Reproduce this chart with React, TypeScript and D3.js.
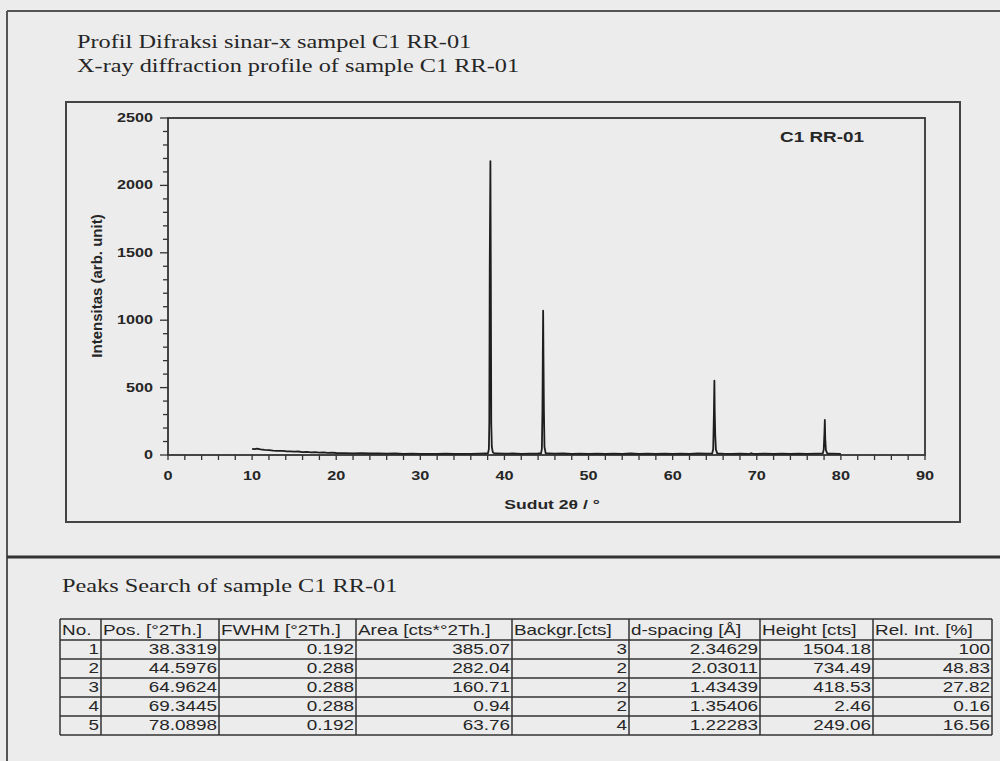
import React from "react";
import * as d3 from "d3";

// diffraction profile, [2theta, counts]
const profile: [number, number][] = [
  [10.0, 46], [10.3, 44], [10.6, 47], [11.0, 41], [11.5, 38], [12.0, 36], [12.5, 33], [13.0, 31],
  [13.5, 30], [14.0, 28], [14.5, 27], [15.0, 25], [15.5, 26], [16.0, 22], [16.5, 23], [17.0, 20],
  [17.5, 21], [18.0, 18], [18.5, 19], [19.0, 16], [19.5, 17], [20.0, 15], [21.0, 14], [22.0, 12],
  [23.0, 13], [24.0, 11], [25.0, 12], [26.0, 10], [27.0, 11], [28.0, 9], [29.0, 10], [30.0, 8],
  [31.0, 9], [32.0, 8], [33.0, 10], [34.0, 8], [35.0, 9], [36.0, 8], [37.0, 10], [37.9, 11],
  [38.05, 14], [38.15, 45], [38.2, 240], [38.25, 1370], [38.33, 2180], [38.38, 1350], [38.43, 240],
  [38.5, 60], [38.62, 20], [38.8, 12], [39.0, 12], [40.0, 10], [41.0, 11], [42.0, 9], [43.0, 10],
  [44.0, 11], [44.35, 12], [44.45, 45], [44.52, 340], [44.56, 730], [44.6, 1070], [44.64, 720],
  [44.69, 340], [44.76, 60], [44.9, 13], [45.2, 12], [46.0, 10], [47.0, 11], [48.0, 9], [49.0, 10],
  [50.0, 9], [51.0, 10], [52.0, 8], [53.0, 10], [54.0, 9], [55.0, 11], [56.0, 9], [57.0, 10],
  [58.0, 8], [59.0, 10], [60.0, 9], [61.0, 10], [62.0, 9], [63.0, 11], [64.0, 10], [64.7, 12],
  [64.82, 45], [64.9, 300], [64.96, 551], [65.0, 320], [65.06, 150], [65.14, 40], [65.3, 12],
  [66.0, 10], [67.0, 9], [68.0, 10], [69.0, 9], [69.2, 11], [69.34, 13], [69.5, 10], [70.0, 9],
  [71.0, 10], [72.0, 9], [73.0, 10], [74.0, 8], [75.0, 10], [76.0, 9], [77.0, 10], [77.85, 12],
  [77.96, 40], [78.05, 170], [78.09, 260], [78.14, 120], [78.22, 35], [78.4, 11], [79.0, 10], [80.0, 9],
];

const xTicks = [0, 10, 20, 30, 40, 50, 60, 70, 80, 90];
const yTicks = [0, 500, 1000, 1500, 2000, 2500];

// peaks search table
const tableHeaders = ["No.", "Pos. [°2Th.]", "FWHM [°2Th.]", "Area [cts*°2Th.]", "Backgr.[cts]", "d-spacing [Å]", "Height [cts]", "Rel. Int. [%]"];
const peakNo = [1, 2, 3, 4, 5];
const peakPos = [38.3319, 44.5976, 64.9624, 69.3445, 78.0898];
const peakFwhm = [0.192, 0.288, 0.288, 0.288, 0.192];
const peakArea = [385.07, 282.04, 160.71, 0.94, 63.76];
const peakBackgr = [3, 2, 2, 2, 4];
const peakDSpacing = [2.34629, 2.03011, 1.43439, 1.35406, 1.22283];
const peakHeight = [1504.18, 734.49, 418.53, 2.46, 249.06];
const peakRelInt = [100, 48.83, 27.82, 0.16, 16.56];

const SX = 1.35; // the scan is stretched sideways
const SANS = "'Liberation Sans', Arial, sans-serif";
const SERIF = "'Liberation Serif', 'Times New Roman', serif";
const INK = "#262626";

const T = ({ x, y, anchor = "start", size, weight = "normal", family = SANS, sx = SX, children }: any) => (
  <text
    transform={`translate(${x},${y}) scale(${sx},1)`}
    textAnchor={anchor}
    fontSize={size}
    fontWeight={weight}
    fontFamily={family}
    fill={INK}
  >
    {children}
  </text>
);

const App = () => {
  const x = d3.scaleLinear().domain([0, 90]).range([168, 925]);
  const y = d3.scaleLinear().domain([0, 2500]).range([455, 118]);
  const line = d3.line<[number, number]>().x(d => x(d[0])).y(d => y(d[1]));

  const xMinor = d3.range(0, 91, 2);
  const yMinor = d3.range(0, 2501, 100);

  const cols = [60, 101, 219, 356, 512, 629, 760, 873, 992];
  const tTop = 619;
  const hBottom = 640;
  const rowH = 19;
  const rows = peakNo.map((n, i) => [n, peakPos[i], peakFwhm[i], peakArea[i], peakBackgr[i], peakDSpacing[i], peakHeight[i], peakRelInt[i]]);

  return (
    <div style={{ position: "absolute", left: 0, top: 0 }}>
      <svg width={1000} height={761} style={{ display: "block" }}>
        <rect x={0} y={0} width={1000} height={761} fill="#ececec" />

        {/* page frame */}
        <line x1={7} x2={1000} y1={11} y2={11} stroke="#555" strokeWidth={2} />
        <line x1={7} x2={7} y1={11} y2={761} stroke="#555" strokeWidth={2} />
        <line x1={7} x2={1000} y1={557} y2={557} stroke="#333" strokeWidth={3} />

        <T x={77} y={48} size={18} family={SERIF}>Profil Difraksi sinar-x sampel C1 RR-01</T>
        <T x={77} y={72} size={18} family={SERIF}>X-ray diffraction profile of  sample C1 RR-01</T>

        {/* chart area */}
        <rect x={66} y={102} width={894} height={420} fill="none" stroke="#444" strokeWidth={2} />
        <rect x={x(0)} y={y(2500)} width={x(90) - x(0)} height={y(0) - y(2500)} fill="none" stroke="#333" strokeWidth={1.8} />

        {xMinor.map(v => (
          <line key={"xm" + v} x1={x(v)} x2={x(v)} y1={y(0)} y2={y(0) + 5} stroke="#333" strokeWidth={1.3} />
        ))}
        {yMinor.map(v => (
          <line key={"ym" + v} x1={x(0) - (v % 500 === 0 ? 8 : 5)} x2={x(0)} y1={y(v)} y2={y(v)} stroke="#333" strokeWidth={1.3} />
        ))}
        {xTicks.map(v => (
          <T key={"xt" + v} x={x(v)} y={480} anchor="middle" size={13} sx={1.25} weight="bold">{v}</T>
        ))}
        {yTicks.map(v => (
          <T key={"yt" + v} x={153} y={y(v) + 4} anchor="end" size={12} weight="bold">{v}</T>
        ))}

        <path d={line(profile) || ""} fill="none" stroke="#1e1e1e" strokeWidth={1.8} strokeLinejoin="round" />

        <T x={780} y={142} size={14} weight="bold">C1 RR-01</T>
        <T x={552} y={509} anchor="middle" size={13} weight="bold">Sudut 2θ / °</T>
        <text
          transform="translate(102,286) rotate(-90)"
          textAnchor="middle"
          fontSize={15}
          fontWeight="bold"
          fontFamily={SANS}
          fill={INK}
        >
          Intensitas (arb. unit)
        </text>

        {/* peaks table */}
        <T x={62} y={592} size={18} family={SERIF}>Peaks Search of sample C1 RR-01</T>
        <g stroke="#333" strokeWidth={1.5}>
          {[tTop, hBottom, ...peakNo.map((_, i) => hBottom + rowH * (i + 1))].map((yy, i) => (
            <line key={"h" + i} x1={cols[0]} x2={cols[cols.length - 1]} y1={yy} y2={yy} />
          ))}
          {cols.map((cx, i) => (
            <line key={"v" + i} x1={cx} x2={cx} y1={tTop} y2={hBottom + rowH * peakNo.length} />
          ))}
        </g>
        {tableHeaders.map((h, i) => (
          <T key={"th" + i} x={cols[i] + 2} y={hBottom - 5} size={14}>{h}</T>
        ))}
        {rows.map((r, ri) =>
          r.map((v, ci) => (
            <T key={"c" + ri + "-" + ci} x={cols[ci + 1] - 2} y={hBottom + rowH * (ri + 1) - 5} anchor="end" size={14}>
              {String(v)}
            </T>
          ))
        )}
      </svg>
    </div>
  );
};

export default App;
